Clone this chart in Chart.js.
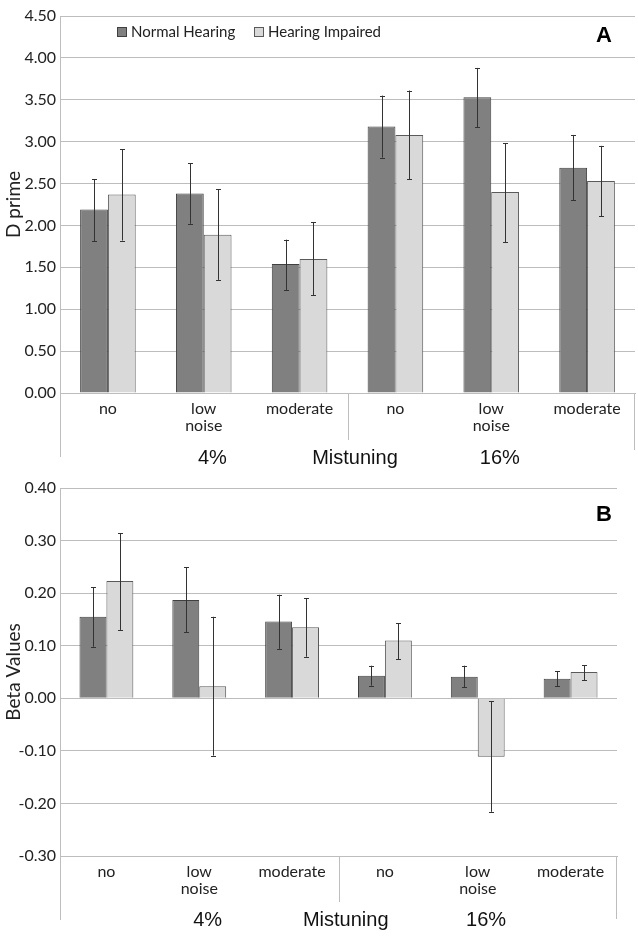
<!DOCTYPE html>
<html>
<head>
<meta charset="utf-8">
<script src="https://cdn.jsdelivr.net/npm/chart.js@4.4.1/dist/chart.umd.min.js"></script>
<style>
  html, body { margin: 0; padding: 0; background: #fff; }
  #wrapA { position: absolute; left: 0; top: 0; width: 638px; height: 470px; }
  #wrapB { position: absolute; left: 0; top: 470px; width: 638px; height: 473px; }
</style>
</head>
<body>
<div id="wrapA"><canvas id="chartA"></canvas></div>
<div id="wrapB"><canvas id="chartB"></canvas></div>
<script>
// categories + series names
const categories = [["no"], ["low", "noise"], ["moderate"], ["no"], ["low", "noise"], ["moderate"]];
const seriesNames = ["Normal Hearing", "Hearing Impaired"];
const groupLabels = ["4%", "Mistuning", "16%"];

// panel A - D prime (bar value, error bar low / high)
const dprimeNH     = [2.19, 2.38, 1.54, 3.18, 3.53, 2.69];
const dprimeNHlow  = [1.81, 2.02, 1.23, 2.81, 3.17, 2.30];
const dprimeNHhigh = [2.55, 2.74, 1.83, 3.55, 3.88, 3.08];
const dprimeHI     = [2.37, 1.89, 1.60, 3.08, 2.40, 2.53];
const dprimeHIlow  = [1.82, 1.35, 1.17, 2.55, 1.80, 2.11];
const dprimeHIhigh = [2.91, 2.43, 2.04, 3.61, 2.98, 2.95];
const dprimeAxis = { min: 0, max: 4.5, step: 0.5 };

// panel B - Beta values
const betaNH     = [0.155, 0.187, 0.146, 0.043, 0.041, 0.037];
const betaNHlow  = [0.098, 0.126, 0.094, 0.024, 0.021, 0.023];
const betaNHhigh = [0.211, 0.249, 0.197, 0.062, 0.062, 0.051];
const betaHI     = [0.223, 0.023, 0.135, 0.110, -0.111, 0.050];
const betaHIlow  = [0.130, -0.109, 0.079, 0.074, -0.216, 0.034];
const betaHIhigh = [0.314, 0.155, 0.190, 0.143, -0.006, 0.063];
const betaAxis = { min: -0.3, max: 0.4, step: 0.1 };

const colNH = '#808080', borderNH = '#404040';
const colHI = '#d9d9d9', borderHI = '#5a5a5a';
const gridCol = '#bdbdbd';
const textCol = '#222';

// draws error bars, legend, panel letter, and the table-like x axis lines
const panelExtras = {
  id: 'panelExtras',
  afterDatasetsDraw(chart, args, opts) {
    const ctx = chart.ctx;
    const ys = chart.scales.y, xs = chart.scales.x;
    const area = chart.chartArea;
    ctx.save();

    // error bars
    ctx.strokeStyle = '#333';
    ctx.lineWidth = 1;
    opts.errors.forEach((err, di) => {
      const meta = chart.getDatasetMeta(di);
      meta.data.forEach((bar, i) => {
        const x = Math.round(bar.x) + 0.5;
        const y1 = ys.getPixelForValue(err.low[i]);
        const y2 = ys.getPixelForValue(err.high[i]);
        ctx.beginPath();
        ctx.moveTo(x, y1); ctx.lineTo(x, y2);
        ctx.moveTo(x - 2.5, Math.round(y1) + 0.5); ctx.lineTo(x + 2.5, Math.round(y1) + 0.5);
        ctx.moveTo(x - 2.5, Math.round(y2) + 0.5); ctx.lineTo(x + 2.5, Math.round(y2) + 0.5);
        ctx.stroke();
      });
    });

    // axis box lines below plot
    ctx.strokeStyle = gridCol;
    ctx.beginPath();
    const lx = Math.round(area.left) + 0.5;
    const rx = Math.round(area.right) - 0.5;
    const dx = Math.round((xs.getPixelForValue(2) + xs.getPixelForValue(3)) / 2) + 0.5;
    ctx.moveTo(lx, area.bottom); ctx.lineTo(lx, area.bottom + opts.leftExt);
    ctx.moveTo(rx, area.bottom); ctx.lineTo(rx, area.bottom + opts.rightExt);
    ctx.moveTo(dx, area.bottom); ctx.lineTo(dx, area.bottom + opts.divExt);
    ctx.stroke();

    // group labels
    ctx.fillStyle = '#111';
    ctx.font = '20px "Liberation Sans", Arial, sans-serif';
    ctx.textAlign = 'center';
    ctx.textBaseline = 'middle';
    const gy = area.bottom + opts.groupY;
    const w = area.right - area.left;
    [0.265, 0.513, 0.765].forEach((f, i) => {
      ctx.fillText(groupLabels[i], area.left + f * w, gy);
    });

    // panel letter
    ctx.font = 'bold 22px "Liberation Sans", Arial, sans-serif';
    ctx.fillStyle = '#000';
    ctx.fillText(opts.letter, opts.letterX, opts.letterY);

    // legend
    if (opts.legend) {
      ctx.font = '15px Lato, sans-serif';
      ctx.textAlign = 'left';
      ctx.fillStyle = textCol;
      opts.legend.forEach((lg, di) => {
        const ds = chart.data.datasets[di];
        ctx.fillStyle = ds.backgroundColor;
        ctx.fillRect(lg.x, lg.y, 9, 9);
        ctx.strokeStyle = ds.borderColor;
        ctx.strokeRect(lg.x + 0.5, lg.y + 0.5, 9, 9);
        ctx.fillStyle = textCol;
        ctx.fillText(ds.label, lg.x + 14, lg.y + 5);
      });
    }
    ctx.restore();
  }
};

function makeChart(id, nh, hi, axis, title, o) {
  return new Chart(document.getElementById(id), {
    type: 'bar',
    data: {
      labels: categories,
      datasets: [
        { label: seriesNames[0], data: nh, backgroundColor: colNH, borderColor: borderNH, borderWidth: 1 },
        { label: seriesNames[1], data: hi, backgroundColor: colHI, borderColor: borderHI, borderWidth: 1 }
      ]
    },
    options: {
      responsive: true,
      maintainAspectRatio: false,
      animation: false,
      layout: { padding: o.padding },
      datasets: { bar: { categoryPercentage: 0.58, barPercentage: 1.0 } },
      plugins: {
        legend: { display: false },
        tooltip: { enabled: false },
        panelExtras: o.extras
      },
      scales: {
        x: {
          grid: { display: false },
          border: { display: true, color: gridCol },
          ticks: {
            color: textCol,
            font: { family: 'Lato, sans-serif', size: 16, lineHeight: 1.06 },
            padding: -1,
            maxRotation: 0,
            autoSkip: false
          },
          afterFit: s => { s.height = o.xHeight; }
        },
        y: {
          min: axis.min,
          max: axis.max,
          grid: { color: gridCol, drawTicks: false },
          border: { display: true, color: gridCol },
          ticks: {
            stepSize: axis.step,
            color: textCol,
            padding: 4,
            font: { family: 'Lato, sans-serif', size: 16 },
            callback: v => v.toFixed(2)
          },
          title: {
            display: true,
            text: title,
            color: textCol,
            font: { family: 'Lato, sans-serif', size: 19 },
            padding: { top: 2, bottom: 0 }
          },
          afterFit: s => { s.width = 60; }
        }
      }
    },
    plugins: [panelExtras]
  });
}

makeChart('chartA', dprimeNH, dprimeHI, dprimeAxis, 'D prime', {
  padding: { top: 16, right: 3, left: 0, bottom: 0 },
  xHeight: 77,
  extras: {
    errors: [{ low: dprimeNHlow, high: dprimeNHhigh }, { low: dprimeHIlow, high: dprimeHIhigh }],
    leftExt: 64, rightExt: 57, divExt: 47, groupY: 65,
    letter: 'A', letterX: 604, letterY: 36,
    legend: [{ x: 117, y: 27 }, { x: 254, y: 27 }]
  }
});

makeChart('chartB', betaNH, betaHI, betaAxis, 'Beta Values', {
  padding: { top: 18, right: 21, left: 0, bottom: 0 },
  xHeight: 87,
  extras: {
    errors: [{ low: betaNHlow, high: betaNHhigh }, { low: betaHIlow, high: betaHIhigh }],
    leftExt: 64, rightExt: 63, divExt: 46, groupY: 64,
    letter: 'B', letterX: 604, letterY: 45,
    legend: null
  }
});
</script>
</body>
</html>
